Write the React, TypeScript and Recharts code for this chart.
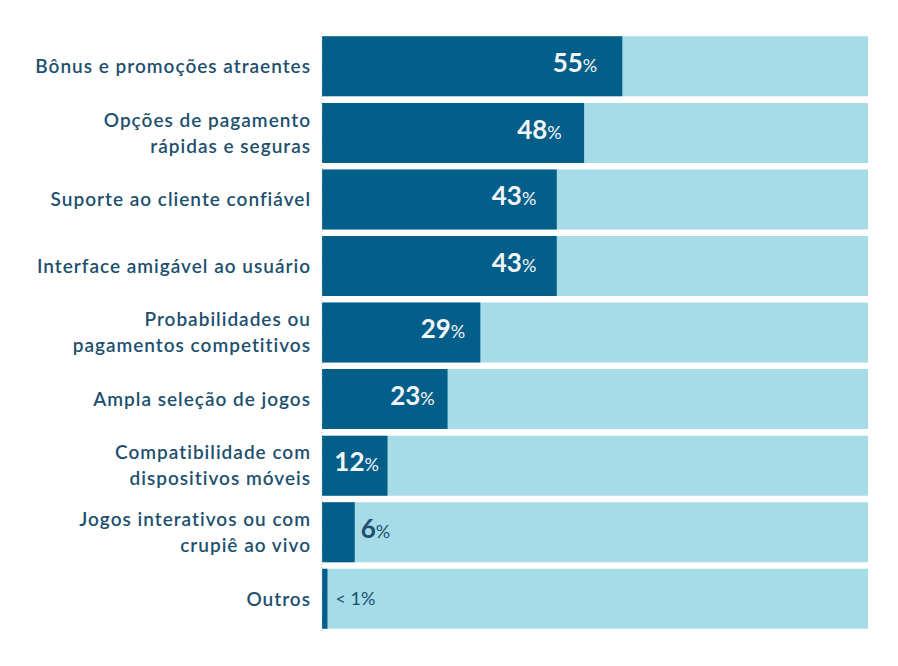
import React from "react";
import { BarChart, Bar, XAxis, YAxis, LabelList } from "recharts";

const categories = [
  "Bônus e promoções atraentes",
  "Opções de pagamento\nrápidas e seguras",
  "Suporte ao cliente confiável",
  "Interface amigável ao usuário",
  "Probabilidades ou\npagamentos competitivos",
  "Ampla seleção de jogos",
  "Compatibilidade com\ndispositivos móveis",
  "Jogos interativos ou com\ncrupiê ao vivo",
  "Outros",
];
const values = [55, 48, 43, 43, 29, 23, 12, 6, 1];
const valueLabels = ["55", "48", "43", "43", "29", "23", "12", "6", "< 1"];

const data = categories.map((c, i) => ({ name: c, value: values[i], label: valueLabels[i] }));

const FONT = "Lato, 'Noto Sans', sans-serif";
const TEXT = "#1d4f6e";

const Tick = (props: any) => {
  const { x, y, payload } = props;
  const lines = String(payload.value).split("\n");
  const lh = 26;
  const start = -((lines.length - 1) * lh) / 2;
  const tx = x - 3;
  return (
    <text x={tx} y={y} textAnchor="end" fontFamily={FONT} fontSize={19} fontWeight={600} fill={TEXT} letterSpacing={1}>
      {lines.map((l, i) => (
        <tspan key={i} x={tx} y={y + start + i * lh} dy="0.36em">{l}</tspan>
      ))}
    </text>
  );
};

const ValueLabel = (props: any) => {
  const { x, y, width, height, index } = props;
  const lbl = valueLabels[index];
  const v = values[index];
  const cy = y + height / 2;
  if (v >= 10) {
    const off = 4 + width * 0.07;
    return (
      <text x={x + width - off} y={cy} dy="0.36em" textAnchor="end" fontFamily={FONT} fill="#f2f6f8" fontWeight={700}>
        <tspan fontSize={26}>{lbl}</tspan>
        <tspan fontSize={18} fontWeight={400}>%</tspan>
      </text>
    );
  }
  if (lbl.startsWith("<")) {
    return (
      <text x={x + width + 8} y={cy} dy="0.36em" textAnchor="start" fontFamily={FONT} fill={TEXT} fontSize={18} fontWeight={400}>
        {lbl}%
      </text>
    );
  }
  return (
    <text x={x + width + 6} y={cy} dy="0.36em" textAnchor="start" fontFamily={FONT} fill={TEXT} fontWeight={700}>
      <tspan fontSize={26}>{lbl}</tspan>
      <tspan fontSize={18} fontWeight={400}>%</tspan>
    </text>
  );
};

export default function App() {
  return (
    <div style={{ position: "absolute", left: 0, top: 0, background: "#fff" }}>
      <BarChart
        width={898}
        height={666}
        data={data}
        layout="vertical"
        margin={{ top: 33, right: 30, bottom: 34, left: 0 }}
        barCategoryGap="5%"
      >
        <XAxis type="number" domain={[0, 100]} hide />
        <YAxis
          type="category"
          dataKey="name"
          width={322}
          tickLine={false}
          axisLine={{ stroke: "#b0b8bd", strokeDasharray: "1 2" }}
          tick={<Tick />}
          interval={0}
        />
        <Bar dataKey="value" fill="#035e89" background={{ fill: "#a6dce8" }} isAnimationActive={false}>
          <LabelList dataKey="value" content={<ValueLabel />} />
        </Bar>
      </BarChart>
    </div>
  );
}
